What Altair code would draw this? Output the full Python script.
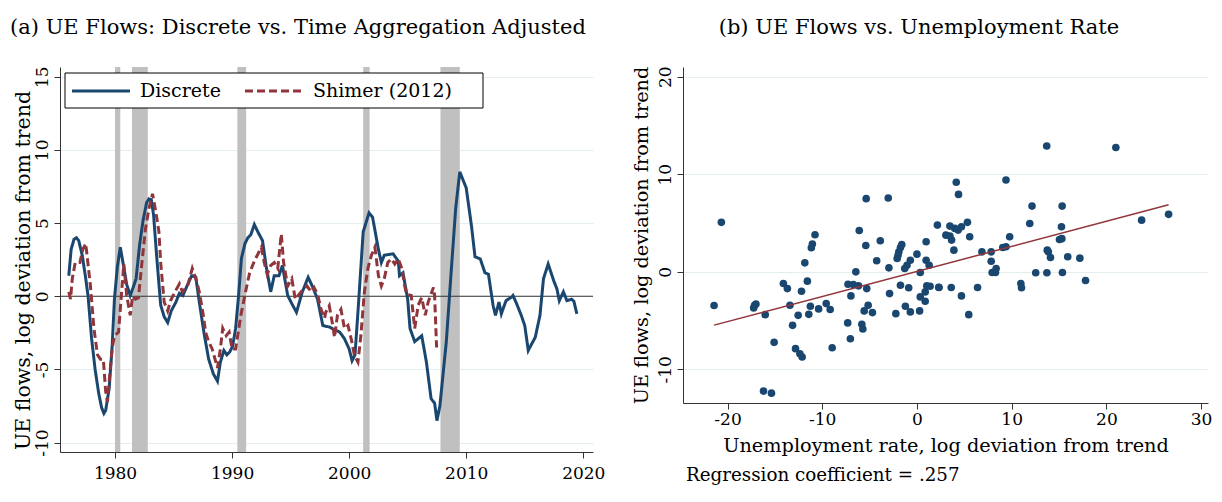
import altair as alt
import pandas as pd

FONT = "DejaVu Serif"
BLUE = "#1a476f"
RED = "#90353b"
GRID = "#e4eeef"
AXIS = "#333333"

# ---------------- Panel (a) data ----------------
disc_year = [1976.05, 1976.25, 1976.5, 1976.7, 1976.9, 1977.2, 1977.5, 1977.7, 1978.0, 1978.3,
             1978.6, 1978.85, 1979.05, 1979.2, 1979.5, 1979.75, 1979.95, 1980.2, 1980.45, 1980.7,
             1981.0, 1981.3, 1981.55, 1981.8, 1982.1, 1982.4, 1982.7, 1982.9, 1983.1, 1983.3,
             1983.55, 1983.9, 1984.2, 1984.5, 1984.8, 1985.2, 1985.5, 1985.8, 1986.2, 1986.55,
             1986.9, 1987.2, 1987.6, 1988.0, 1988.4, 1988.75, 1989.0, 1989.3, 1989.55, 1989.8,
             1990.05, 1990.3, 1990.55, 1990.8, 1991.1, 1991.35, 1991.6, 1991.9, 1992.2, 1992.6,
             1992.9, 1993.3, 1993.6, 1994.0, 1994.3, 1994.75, 1995.1, 1995.5, 1996.0, 1996.5,
             1996.9, 1997.3, 1997.75, 1998.3, 1998.8, 1999.2, 1999.6, 2000.0, 2000.25, 2000.5,
             2000.8, 2001.2, 2001.7, 2002.0, 2002.5, 2002.75, 2003.0, 2003.75, 2004.2, 2004.3,
             2004.6, 2005.0, 2005.2, 2005.6, 2006.2, 2006.6, 2007.0, 2007.3, 2007.5, 2007.75,
             2008.3, 2008.7, 2009.1, 2009.45, 2010.0, 2010.45, 2010.75, 2011.2, 2011.6, 2011.9,
             2012.3, 2012.5, 2012.8, 2013.0, 2013.4, 2013.9, 2014.0, 2014.3, 2014.7, 2015.0,
             2015.3, 2015.6, 2015.9, 2016.3, 2016.6, 2017.0, 2017.5, 2017.75, 2017.95, 2018.3,
             2018.6, 2019.0, 2019.2, 2019.45]
disc_val = [1.4, 3.2, 3.9, 4.0, 3.8, 2.8, 1.2, 0.0, -2.9, -5.0,
            -6.6, -7.6, -8.0, -7.8, -6.3, -3.5, -0.2, 2.0, 3.35, 2.2,
            0.8, 0.05, 0.6, 1.2, 3.5, 5.2, 6.4, 6.65, 6.6, 5.5,
            2.8, -0.6, -1.4, -1.8, -1.0, -0.4, 0.2, 0.05, 0.8, 1.4,
            1.3, -0.4, -2.5, -4.3, -5.3, -5.8, -4.5, -3.7, -4.0, -3.8,
            -3.4, -2.2, 0.0, 2.6, 3.6, 4.0, 4.2, 4.9, 4.4, 3.8,
            2.1, 0.3, 1.4, 1.4, 2.1, 0.05, -0.5, -1.1, 0.3, 1.3,
            0.6, -0.2, -2.0, -2.1, -2.3, -2.45, -2.9, -3.6, -4.4, -4.0,
            -0.5, 4.4, 5.7, 5.4, 3.2, 2.3, 2.8, 2.9, 2.4, 1.4,
            1.6, -0.2, -2.2, -3.1, -2.7, -4.5, -7.0, -7.3, -8.5, -7.5,
            -3.1, 1.5, 6.0, 8.5, 7.4, 4.8, 2.7, 2.55, 1.6, 1.5,
            -0.65, -1.3, -0.4, -1.2, -0.3, -0.05, 0.05, -0.5, -1.3, -2.0,
            -3.7, -3.25, -2.8, -1.3, 1.2, 2.2, 1.0, 0.5, -0.3, 0.3,
            -0.3, -0.2, -0.35, -1.2]

shim_year = [1976.05, 1976.2, 1976.35, 1976.6, 1977.0, 1977.25, 1977.5, 1977.65, 1977.9, 1978.2,
             1978.5, 1978.75, 1979.0, 1979.2, 1979.35, 1979.75, 1979.95, 1980.3, 1980.75, 1981.0,
             1981.3, 1981.5, 1981.75, 1982.0, 1982.3, 1982.6, 1982.9, 1983.2, 1983.5, 1983.75,
             1983.9, 1984.2, 1984.5, 1984.75, 1985.1, 1985.5, 1985.75, 1986.2, 1986.6, 1986.9,
             1987.2, 1987.5, 1987.75, 1988.0, 1988.3, 1988.75, 1989.0, 1989.2, 1989.5, 1989.75,
             1990.0, 1990.3, 1990.75, 1991.2, 1991.5, 1991.9, 1992.5, 1992.75, 1993.0, 1993.3,
             1993.6, 1993.9, 1994.2, 1994.4, 1994.75, 1995.1, 1995.4, 1995.75, 1996.1, 1996.4,
             1996.75, 1997.0, 1997.3, 1997.6, 1997.9, 1998.0, 1998.3, 1998.6, 1998.75, 1999.0,
             1999.3, 1999.6, 1999.9, 2000.2, 2000.45, 2000.75, 2001.0, 2001.3, 2001.6, 2001.9,
             2002.2, 2002.5, 2002.75, 2003.0, 2003.3, 2003.6, 2003.9, 2004.2, 2004.5, 2004.75,
             2004.9, 2005.3, 2005.6, 2005.9, 2006.2, 2006.5, 2006.75, 2007.2, 2007.3, 2007.47]
shim_val = [0.3, -0.2, 1.2, 2.3, 2.3, 3.2, 3.6, 2.5, 0.7, -2.2,
            -4.0, -4.3, -4.3, -6.5, -7.2, -3.6, -2.7, -2.45, 2.2, 0.05,
            -1.3, 0.0, -0.2, -0.1, 2.3, 4.6, 6.0, 7.0, 5.7, 4.4,
            2.3, -0.4, -1.0, -0.3, 0.27, 0.85, 0.3, 0.7, 1.9, 1.2,
            0.3, -1.1, -2.5, -3.1, -3.6, -4.9, -3.6, -2.2, -2.7, -2.45,
            -3.6, -3.6, -1.3, 0.5, 1.6, 2.4, 3.35, 2.3, 1.5, 2.1,
            2.3, 1.9, 4.25, 2.3, 0.7, 1.2, -0.2, 0.15, 0.5, 0.7,
            0.3, 0.6, 0.15, -0.9, -1.5, -1.1, -0.65, -2.0, -2.8, -1.3,
            -0.9, -2.2, -2.0, -3.0, -4.05, -4.5, -2.7, 0.3, 1.9, 2.8,
            3.35, 1.4, 0.7, 1.2, 2.3, 2.55, 2.2, 2.55, 1.9, 0.7,
            0.15, 0.05, -2.2, -0.6, -0.1, -1.3, -0.4, 0.6, 0.05, -3.5]

rec_start = [1980.0, 1981.45, 1990.45, 2001.2, 2007.8]
rec_end = [1980.45, 1982.8, 1991.2, 2001.75, 2009.45]

series_names = ["Discrete", "Shimer (2012)"]
y_ticks_a = [-10, -5, 0, 5, 10, 15]
x_ticks_a = [1980, 1990, 2000, 2010, 2020]

# ---------------- Panel (b) data ----------------
sc_x = [-20.65, -5.36, -3.03, -10.76, -11.04, -11.15, -6.09, -5.4, -3.87, 2.16,
        3.06, 0.97, 0.0, -1.74, -1.91, -2.09, -0.7, -1.05, -1.29, -4.25,
        -2.96, 0.97, 1.29, 0.35, -6.45, -11.84, -14.1, -13.68, -11.57, -12.19,
        -13.41, -21.42, -17.14, -17.24, -16.02, -12.54, -11.42, -11.25, -10.38, -9.58,
        -9.16, -13.13, -7.28, -6.72, -6.17, -5.3, -6.97, -7.31, -5.82, -5.15,
        -5.57, -4.7, -2.89, -1.74, -0.87, -2.23, -1.22, -0.7, 0.28, 0.35,
        0.87, 0.87, 1.04, 1.39, 2.3, -16.2, -15.36, -15.08, -12.82, -12.36,
        -12.12, -8.95, -7.03, -5.71, -17.0, 4.15, 4.39, 9.4, 12.15, 15.33,
        11.91, 15.26, 15.05, 15.3, 9.79, 9.06, 9.4, 6.86, 7.84, 7.84,
        8.36, 7.94, 8.29, 13.76, 13.87, 14.1, 15.92, 17.2, 12.54, 13.72,
        15.36, 17.8, 10.97, 11.04, 23.72, 26.57, 3.48, 4.0, 4.35, 4.7,
        5.33, 3.48, 3.66, 5.57, 3.9, 2.33, 3.62, 4.7, 6.4, 5.47,
        13.7, 21.0, -1.6, -2.0]
sc_y = [5.07, 7.5, 7.57, 3.8, 2.84, 2.47, 4.24, 2.7, 3.19, 4.79,
        3.76, 3.08, 1.81, 2.5, 2.05, 1.37, 1.19, 0.68, 0.34, 1.13,
        0.41, 1.19, 0.68, -0.07, 0.0, 0.92, -1.2, -1.72, -0.96, -1.99,
        -3.43, -3.46, -3.43, -3.7, -4.39, -4.46, -4.36, -3.53, -3.8, -3.26,
        -3.87, -5.49, -1.27, -1.31, -1.44, -1.72, -2.47, -5.24, -5.38, -3.43,
        -4.01, -4.18, -2.23, -1.38, -1.64, -4.29, -3.53, -4.11, -4.01, -2.57,
        -3.02, -2.06, -1.44, -1.48, -1.58, -12.23, -12.44, -7.23, -7.88, -8.4,
        -8.74, -7.78, -6.86, -5.86, -3.3, 9.18, 7.94, 9.42, 6.74, 6.74,
        4.96, 4.62, 3.32, 3.4, 3.6, 2.5, 2.57, 2.05, 2.05, 1.09,
        0.34, -0.07, -0.07, 2.22, 2.05, 1.47, 1.54, 1.4, -0.1, -0.1,
        -0.07, -0.89, -1.2, -1.64, 5.3, 5.89, 4.69, 4.45, 4.28, 4.62,
        5.07, 3.66, 3.25, 3.6, 2.22, -1.61, -1.61, -2.47, -1.61, -4.39,
        12.9, 12.74, 2.8, 1.7]
reg_coef = 0.257
reg_const = 0.04
x_ticks_b = [-20, -10, 0, 10, 20, 30]
y_ticks_b = [-10, 0, 10, 20]

LABEL_EXPR = "datum.value"

# ---------------- Panel (a) ----------------
ts = pd.concat([
    pd.DataFrame({"year": disc_year, "val": disc_val, "series": series_names[0]}),
    pd.DataFrame({"year": shim_year, "val": shim_val, "series": series_names[1]}),
])
rec_df = pd.DataFrame({"start": rec_start, "end": rec_end})

xs_a = alt.Scale(domain=[1975.3, 2020.83], nice=False, zero=False)
ys_a = alt.Scale(domain=[-10.64, 15.66], nice=False, zero=False)

x_axis_a = alt.Axis(values=x_ticks_a, labelExpr=LABEL_EXPR, title=None, grid=False,
                    labelFontSize=17, labelFont=FONT, labelColor="black", labelPadding=7,
                    tickSize=6, tickColor=AXIS, domainColor=AXIS)
y_axis_a = alt.Axis(values=y_ticks_a, labelExpr=LABEL_EXPR, title="UE flows, log deviation from trend",
                    labelAngle=270, labelAlign="center", labelBaseline="bottom",
                    labelFontSize=17, labelFont=FONT, labelColor="black", labelPadding=3,
                    titleFont=FONT, titleFontSize=20.5, titleFontWeight="normal",
                    titleColor="black", titlePadding=0, titleY=203,
                    grid=True, gridColor=GRID, gridWidth=1.2,
                    tickSize=6, tickColor=AXIS, domainColor=AXIS)

rec_layer = alt.Chart(rec_df).mark_rect(color="#c0c0c0").encode(
    x=alt.X("start:Q", scale=xs_a, axis=x_axis_a),
    x2="end:Q",
)
zero_layer = alt.Chart(pd.DataFrame({"z": [0]})).mark_rule(color="#333333", strokeWidth=1.2).encode(
    y=alt.Y("z:Q", scale=ys_a, axis=y_axis_a),
)
line_layer = alt.Chart(ts).mark_line(strokeWidth=3).encode(
    x=alt.X("year:Q", scale=xs_a, axis=x_axis_a),
    y=alt.Y("val:Q", scale=ys_a, axis=y_axis_a),
    color=alt.Color("series:N", scale=alt.Scale(domain=series_names, range=[BLUE, RED]), legend=None),
    strokeDash=alt.StrokeDash("series:N", scale=alt.Scale(domain=series_names, range=[[1, 0], [8, 4]]), legend=None),
)

# hand-built legend box (as in the original, inside the plot at the top)
one = pd.DataFrame({"a": [0]})
leg_box = alt.Chart(one).mark_rect(fill="white", stroke="black", strokeWidth=1).encode(
    x=alt.value(5), x2=alt.value(423), y=alt.value(6), y2=alt.value(41))
leg_line1 = alt.Chart(one).mark_rule(color=BLUE, strokeWidth=3).encode(
    x=alt.value(12), x2=alt.value(70), y=alt.value(24))
leg_line2 = alt.Chart(one).mark_rule(color=RED, strokeWidth=3, strokeDash=[8, 4]).encode(
    x=alt.value(185), x2=alt.value(243), y=alt.value(24))
leg_txt1 = alt.Chart(pd.DataFrame({"t": [series_names[0]]})).mark_text(
    font=FONT, fontSize=19, align="left", baseline="middle", color="black").encode(
    x=alt.value(80), y=alt.value(24), text="t:N")
leg_txt2 = alt.Chart(pd.DataFrame({"t": [series_names[1]]})).mark_text(
    font=FONT, fontSize=19, align="left", baseline="middle", color="black").encode(
    x=alt.value(253), y=alt.value(24), text="t:N")

panel_a = alt.layer(rec_layer, zero_layer, line_layer,
                    leg_box, leg_line1, leg_line2, leg_txt1, leg_txt2).properties(
    width=533, height=385,
    title=alt.TitleParams("(a) UE Flows: Discrete vs. Time Aggregation Adjusted",
                          font=FONT, fontSize=21, fontWeight="normal", color="black",
                          anchor="middle", frame="bounds", offset=28, dx=-11),
)

# ---------------- Panel (b) ----------------
sc_df = pd.DataFrame({"x": sc_x, "y": sc_y})
xmin, xmax = min(sc_x), max(sc_x)
reg_df = pd.DataFrame({"x": [xmin, xmax], "y": [reg_const + reg_coef * xmin, reg_const + reg_coef * xmax]})
note = "Regression coefficient = " + ("%.3f" % reg_coef).lstrip("0")

xs_b = alt.Scale(domain=[-24.7, 30.73], nice=False, zero=False)
ys_b = alt.Scale(domain=[-13.45, 21.0], nice=False, zero=False)
x_axis_b = alt.Axis(values=x_ticks_b, labelExpr=LABEL_EXPR,
                    title="Unemployment rate, log deviation from trend", grid=False,
                    labelFontSize=17, labelFont=FONT, labelColor="black", labelPadding=2,
                    titleFont=FONT, titleFontSize=19.3, titleFontWeight="normal", titleColor="black",
                    titlePadding=9, tickSize=6, tickColor=AXIS, domainColor=AXIS)
y_axis_b = alt.Axis(values=y_ticks_b, labelExpr=LABEL_EXPR, title="UE flows, log deviation from trend",
                    labelAngle=270, labelAlign="center", labelBaseline="bottom",
                    labelFontSize=17, labelFont=FONT, labelColor="black", labelPadding=3,
                    titleFont=FONT, titleFontSize=19.3, titleFontWeight="normal",
                    titleColor="black", titlePadding=5,
                    grid=True, gridColor=GRID, gridWidth=1.2,
                    tickSize=6, tickColor=AXIS, domainColor=AXIS)

pts = alt.Chart(sc_df).mark_circle(color=BLUE, opacity=1, size=58).encode(
    x=alt.X("x:Q", scale=xs_b, axis=x_axis_b),
    y=alt.Y("y:Q", scale=ys_b, axis=y_axis_b),
)
reg = alt.Chart(reg_df).mark_line(color=RED, strokeWidth=1.5).encode(
    x=alt.X("x:Q", scale=xs_b, axis=x_axis_b),
    y=alt.Y("y:Q", scale=ys_b, axis=y_axis_b),
)
note_layer = alt.Chart(pd.DataFrame({"t": [note]})).mark_text(
    font=FONT, fontSize=18.3, align="left", baseline="middle", color="black"
).encode(x=alt.value(3), y=alt.value(409), text="t:N")

panel_b = alt.layer(pts, reg, note_layer).properties(
    width=525, height=336,
    title=alt.TitleParams("(b) UE Flows vs. Unemployment Rate",
                          font=FONT, fontSize=21, fontWeight="normal", color="black",
                          anchor="middle", frame="bounds", offset=28, dx=-3),
)

chart = alt.hconcat(panel_a, panel_b, spacing=27).properties(
    padding={"left": 2, "top": 8, "right": 0, "bottom": 0},
    background="white",
).configure_view(stroke=None)

chart.save("out.html", embed_options={"renderer": "svg", "actions": False})
